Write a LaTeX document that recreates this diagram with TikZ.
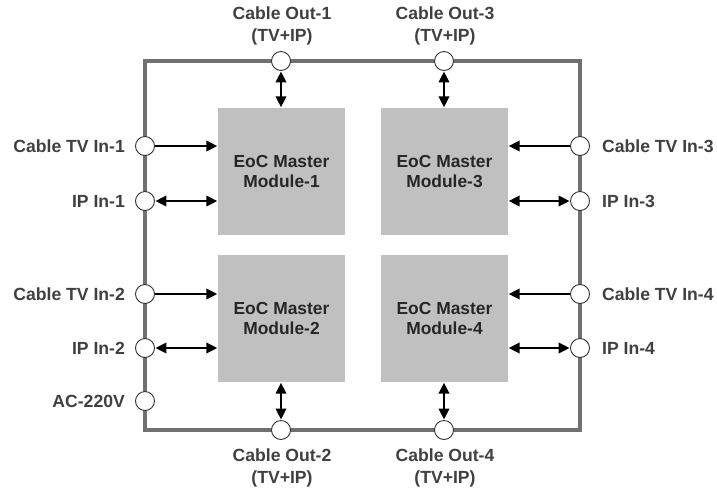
\documentclass[tikz,border=0pt]{standalone}
\usepackage{fontspec}
\setmainfont{Liberation Sans}
\usetikzlibrary{arrows.meta}
\definecolor{framegray}{HTML}{707070}
\definecolor{boxgray}{HTML}{C0C0C0}
\definecolor{txtgray}{HTML}{404040}
\tikzset{
  frameline/.style={draw=framegray, line width=3.4pt},
  port/.style={circle, draw=black!80, fill=white, line width=0.9pt, minimum size=19pt, inner sep=0pt},
  module/.style={rectangle, fill=boxgray, minimum width=127pt, minimum height=127pt, inner sep=0pt,
    align=center, text=black!85, font=\fontsize{17.4}{20.5}\selectfont\bfseries},
  lbl/.style={text=txtgray, font=\fontsize{17.6}{22}\selectfont\bfseries, inner sep=0pt, align=center},
  arr/.style={line width=2.2pt, -{Triangle[length=11pt,width=10.5pt]}, shorten >=0.5pt},
  darr/.style={line width=2.2pt, {Triangle[length=11pt,width=10.5pt]}-{Triangle[length=11pt,width=10.5pt]}, shorten >=0.5pt, shorten <=0.5pt}
}
\begin{document}
\begin{tikzpicture}[x=1pt,y=-1pt]
\useasboundingbox (0,0) rectangle (717,491);
% frame
\draw[frameline] (145,61) rectangle (580,430);
% modules
\node[module] (m1) at (281.5,171.5) {EoC Master\\Module-1};
\node[module] (m3) at (444.5,171.5) {EoC Master\\Module-3};
\node[module] (m2) at (281.5,318.5) {EoC Master\\Module-2};
\node[module] (m4) at (444.5,318.5) {EoC Master\\Module-4};
% ports left
\node[port] (tv1) at (145,146) {};
\node[port] (ip1) at (145,201) {};
\node[port] (tv2) at (145,294) {};
\node[port] (ip2) at (145,348) {};
\node[port] (ac) at (145,401) {};
% ports right
\node[port] (tv3) at (580,146) {};
\node[port] (ip3) at (580,201) {};
\node[port] (tv4) at (580,294) {};
\node[port] (ip4) at (580,348) {};
% ports top/bottom
\node[port] (co1) at (281,61) {};
\node[port] (co3) at (444,61) {};
\node[port] (co2) at (281,430) {};
\node[port] (co4) at (444,430) {};
% labels
\node[lbl, anchor=east] at ([xshift=-10pt]tv1.west) {Cable TV In-1};
\node[lbl, anchor=east] at ([xshift=-10pt]ip1.west) {IP In-1};
\node[lbl, anchor=east] at ([xshift=-10pt]tv2.west) {Cable TV In-2};
\node[lbl, anchor=east] at ([xshift=-10pt]ip2.west) {IP In-2};
\node[lbl, anchor=east] at ([xshift=-10pt]ac.west) {AC-220V};
\node[lbl, anchor=west] at ([xshift=12pt]tv3.east) {Cable TV In-3};
\node[lbl, anchor=west] at ([xshift=12pt]ip3.east) {IP In-3};
\node[lbl, anchor=west] at ([xshift=12pt]tv4.east) {Cable TV In-4};
\node[lbl, anchor=west] at ([xshift=12pt]ip4.east) {IP In-4};
\node[lbl] at (282,26) {Cable Out-1\\(TV+IP)};
\node[lbl] at (445,26) {Cable Out-3\\(TV+IP)};
\node[lbl] at (282,467.5) {Cable Out-2\\(TV+IP)};
\node[lbl] at (445,467.5) {Cable Out-4\\(TV+IP)};
% connectors
\draw[arr] (tv1.east) -- (tv1 -| m1.west);
\draw[darr] (ip1.east) -- (ip1 -| m1.west);
\draw[arr] (tv2.east) -- (tv2 -| m2.west);
\draw[darr] (ip2.east) -- (ip2 -| m2.west);
\draw[arr] (tv3.west) -- (tv3 -| m3.east);
\draw[darr] (ip3.west) -- (ip3 -| m3.east);
\draw[arr] (tv4.west) -- (tv4 -| m4.east);
\draw[darr] (ip4.west) -- (ip4 -| m4.east);
\draw[darr] (co1.south) -- (co1 |- m1.north);
\draw[darr] (co3.south) -- (co3 |- m3.north);
\draw[darr] (co2.north) -- (co2 |- m2.south);
\draw[darr] (co4.north) -- (co4 |- m4.south);
\end{tikzpicture}
\end{document}
